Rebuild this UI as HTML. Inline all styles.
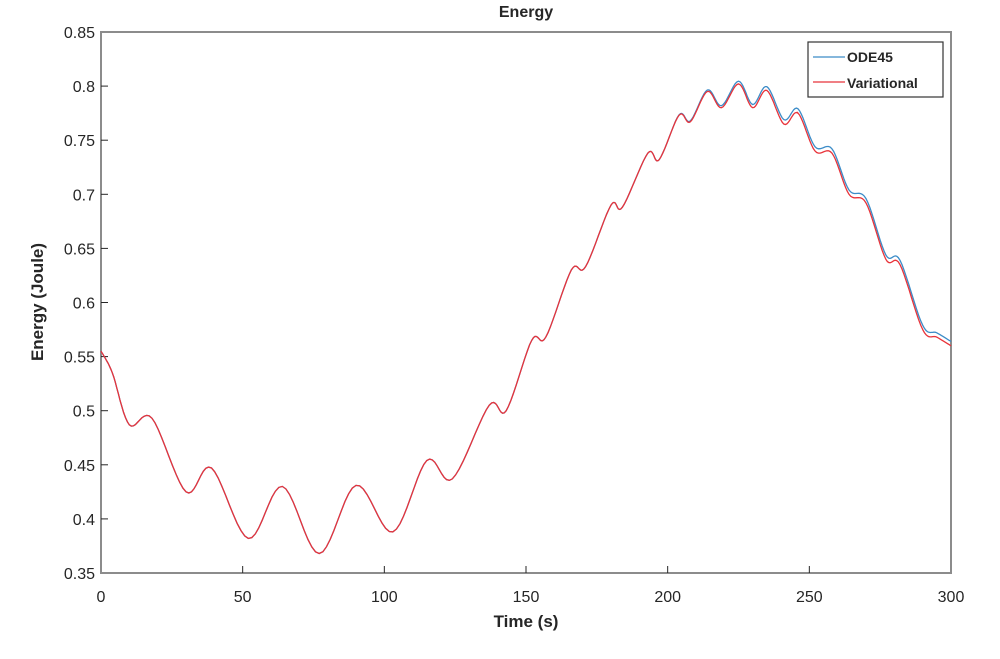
<!DOCTYPE html>
<html><head><style>body{margin:0;background:#fff}svg{display:block}text{font-family:"Liberation Sans",sans-serif;fill:#262626}</style></head>
<body>
<svg id="s" width="1000" height="659" xmlns="http://www.w3.org/2000/svg">
<text x="526" y="17" font-size="16" font-weight="bold" text-anchor="middle">Energy</text>
<rect x="101" y="32" width="850" height="541" fill="none" stroke="#8c8c8c" stroke-width="2"/>
<g id="ticks"></g>
<path id="blue" fill="none" stroke="#3c8cc8" stroke-width="1.3"/>
<path id="red" fill="none" stroke="#e8333a" stroke-width="1.3"/>
<rect x="808" y="42" width="135" height="55" fill="#fff" stroke="#333" stroke-width="1.2"/>
<line x1="813" y1="57" x2="845" y2="57" stroke="#3c8cc8" stroke-width="1.3"/>
<text x="847" y="62" font-size="14" font-weight="bold">ODE45</text>
<line x1="813" y1="82" x2="845" y2="82" stroke="#e8333a" stroke-width="1.3"/>
<text x="847" y="88" font-size="14" font-weight="bold">Variational</text>
<text x="526" y="627" font-size="17" font-weight="bold" text-anchor="middle">Time (s)</text>
<text transform="translate(43,302) rotate(-90)" font-size="17" font-weight="bold" text-anchor="middle">Energy (Joule)</text>
</svg>
<script>
var X=t=>101+t*850/300, Y=e=>32+(0.85-e)*541/0.5;
var g=document.getElementById('ticks'),h='';
for(var i=0;i<=10;i++){var e=0.35+i*0.05,y=Y(e);h+='<text x="95" y="'+(y+6)+'" font-size="16" text-anchor="end">'+(+e.toFixed(2))+'</text>';if(i>0&&i<10)h+='<line x1="101" y1="'+y+'" x2="108" y2="'+y+'" stroke="#262626"/>';}
for(var t=0;t<=300;t+=50){var x=X(t);h+='<text x="'+x+'" y="602" font-size="16" text-anchor="middle">'+t+'</text>';if(t>0&&t<300)h+='<line x1="'+x+'" y1="573" x2="'+x+'" y2="566" stroke="#262626"/>';}
g.innerHTML=h;
var P=[[0,0.555],[4,0.535],[10,0.487],[18,0.493],[30,0.425],[39,0.447],[52,0.382],[64,0.430],[77,0.368],[90,0.431],[103,0.388],[115,0.454],[124,0.437],[137,0.505],[143,0.500],[152,0.565],[157,0.568],[166,0.630],[171,0.633],[180,0.690],[184,0.688],[193,0.738],[197,0.732],[204,0.773],[208,0.767],[214,0.795],[219,0.780],[225,0.802],[230,0.780],[235,0.796],[241,0.765],[246,0.775],[252,0.740],[258,0.738],[264,0.700],[270,0.692],[277,0.640],[282,0.635],[290,0.575],[295,0.568],[300,0.560]];
function path(off){var d='';for(var i=0;i<P.length-1;i++){var p0=P[Math.max(i-1,0)],p1=P[i],p2=P[i+1],p3=P[Math.min(i+2,P.length-1)];
for(var k=0;k<=10;k++){var s=k/10,s2=s*s,s3=s2*s;
var f=(a,b,c,d)=>0.5*(2*b+(-a+c)*s+(2*a-5*b+4*c-d)*s2+(-a+3*b-3*c+d)*s3);
var t=f(p0[0],p1[0],p2[0],p3[0]),e=f(p0[1],p1[1],p2[1],p3[1]);
if(off)e+=0.004*Math.max(0,Math.min(1,(t-200)/40));
d+=(d?'L':'M')+X(t).toFixed(1)+' '+Y(e).toFixed(1);}}return d;}
document.getElementById('blue').setAttribute('d',path(1));
document.getElementById('red').setAttribute('d',path(0));
</script>
</body></html>
